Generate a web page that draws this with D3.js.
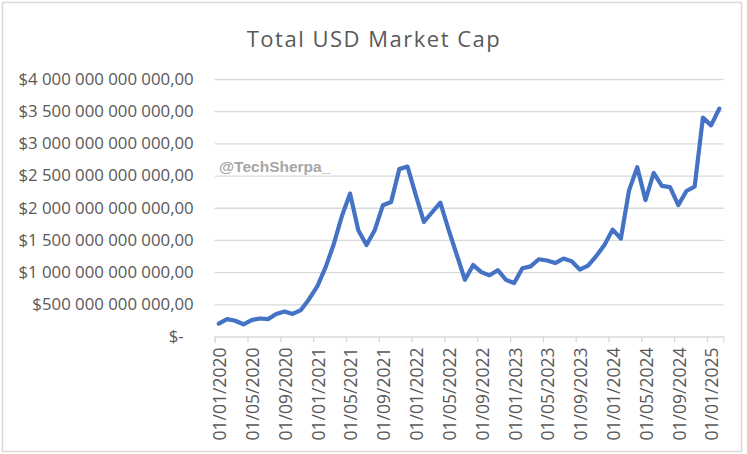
<!DOCTYPE html>
<html lang="en">
	<head>
		<meta charset="utf-8">
		<title>Total USD Market Cap</title>
		<script type="text/javascript" src="https://d3js.org/d3.v7.min.js"></script>
		<style type="text/css">
			body {
				margin: 0;
				background-color: #ffffff;
				font-family: "Open Sans", Arial, Helvetica, sans-serif;
			}
			.axis text { fill: #595959; font-family: "Open Sans", Arial, sans-serif; }
		</style>
	</head>
	<body>
		<script type="text/javascript">

			// Months on the axis (first of each month, Jan 2020 - Feb 2025)
			var months = d3.utcMonth.range(new Date(Date.UTC(2020, 0, 1)), new Date(Date.UTC(2025, 2, 1)));

			// Total market cap, trillions of USD
			var capTrillions = [
				0.20, 0.27, 0.245, 0.19, 0.255, 0.28, 0.27, 0.35, 0.39, 0.35, 0.41, 0.58,
				0.78, 1.07, 1.43, 1.87, 2.22, 1.65, 1.42, 1.65, 2.04, 2.09, 2.60, 2.64,
				2.20, 1.78, 1.93, 2.08, 1.66, 1.27, 0.88, 1.11, 1.00, 0.95, 1.03, 0.88,
				0.83, 1.06, 1.09, 1.20, 1.18, 1.14, 1.21, 1.17, 1.04, 1.10, 1.25, 1.42,
				1.66, 1.52, 2.27, 2.63, 2.12, 2.54, 2.34, 2.32, 2.04, 2.26, 2.33, 3.40,
				3.28, 3.54
			];

			var yTicks = [0, 5e11, 1e12, 1.5e12, 2e12, 2.5e12, 3e12, 3.5e12, 4e12];
			var xTickIndex = [0, 4, 8, 12, 16, 20, 24, 28, 32, 36, 40, 44, 48, 52, 56, 60];
			var xTickLabels = ["01/01/2020", "01/05/2020", "01/09/2020", "01/01/2021", "01/05/2021",
				"01/09/2021", "01/01/2022", "01/05/2022", "01/09/2022", "01/01/2023", "01/05/2023",
				"01/09/2023", "01/01/2024", "01/05/2024", "01/09/2024", "01/01/2025"];

			var w = 747, h = 454;
			var plotLeft = 214.7, plotRight = 723.4, plotTop = 79, plotBottom = 336.5;

			var x = d3.scaleLinear().domain([0, months.length]).range([plotLeft, plotRight]);
			var y = d3.scaleLinear().domain([0, 4e12]).range([plotBottom, plotTop]);

			var locale = d3.formatLocale({decimal: ",", thousands: "\u00a0", grouping: [3], currency: ["$", ""]});
			var money = locale.format("$,.2f");

			var svg = d3.select("body").append("svg")
				.attr("width", w)
				.attr("height", h);

			// chart area border
			svg.append("rect")
				.attr("x", 2.5).attr("y", 2.5)
				.attr("width", 739).attr("height", 449)
				.attr("fill", "#fff")
				.attr("stroke", "#d9d9d9")
				.attr("stroke-width", 1.5);

			// title
			svg.append("text")
				.attr("x", 374).attr("y", 47)
				.attr("text-anchor", "middle")
				.attr("fill", "#595959")
				.attr("font-size", "22px")
				.attr("letter-spacing", "1.5px")
				.text("Total USD Market Cap");

			// gridlines
			svg.append("g")
				.attr("transform", "translate(" + plotLeft + ",0)")
				.call(d3.axisLeft(y).tickValues(yTicks.slice(1)).tickSize(-(plotRight - plotLeft)).tickFormat(""))
				.call(function(g) { g.select(".domain").remove(); })
				.selectAll("line")
				.attr("stroke", "#d9d9d9")
				.attr("stroke-width", 1.3);

			// y labels
			var yAxis = svg.append("g")
				.attr("class", "axis")
				.attr("transform", "translate(" + plotLeft + ",0)")
				.call(d3.axisLeft(y).tickValues(yTicks).tickSize(0).tickPadding(21)
					.tickFormat(function(d) { return d === 0 ? "$-" : money(d); }));
			yAxis.select(".domain").remove();
			yAxis.selectAll("text")
				.attr("font-size", "16.8px")
				.attr("dx", function(d) { return d === 0 ? -10 : 0; });

			// x axis
			var xAxis = svg.append("g")
				.attr("class", "axis")
				.attr("transform", "translate(0," + plotBottom + ")")
				.call(d3.axisBottom(x).tickValues(xTickIndex).tickSize(6)
					.tickFormat(function(d, i) { return xTickLabels[i]; }));
			xAxis.select(".domain").attr("stroke", "#d9d9d9").attr("stroke-width", 1.3);
			xAxis.selectAll(".tick line").attr("stroke", "#d9d9d9").attr("stroke-width", 1.3);
			xAxis.selectAll("text")
				.attr("font-size", "17.5px")
				.attr("text-anchor", "end")
				.attr("y", 0)
				.attr("dy", 0)
				.attr("transform", "translate(11,11) rotate(-90)");

			// watermark
			svg.append("text")
				.attr("x", 219).attr("y", 172)
				.attr("fill", "#a6a6a6")
				.attr("font-size", "15.5px")
				.attr("font-weight", "bold")
				.attr("font-family", "\"Liberation Sans\", Arial, sans-serif")
				.text("@TechSherpa_");

			// line
			var line = d3.line()
				.x(function(d, i) { return x(i + 0.5); })
				.y(function(d) { return y(d * 1e12); });

			svg.append("path")
				.datum(capTrillions)
				.attr("d", line)
				.attr("fill", "none")
				.attr("stroke", "#4472c4")
				.attr("stroke-width", 4.2)
				.attr("stroke-linejoin", "round")
				.attr("stroke-linecap", "round");
		</script>
	</body>
</html>
